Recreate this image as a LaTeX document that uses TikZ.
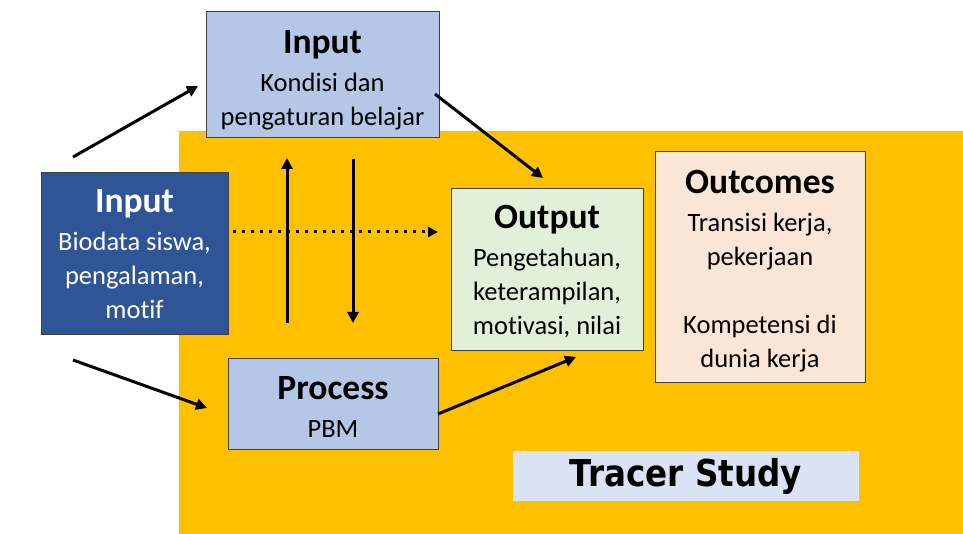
\documentclass[tikz,border=0pt]{standalone}
\usepackage{fontspec}
\setmainfont{Carlito}[Ligatures={NoCommon}]
\newfontfamily\tracerfont[FakeStretch=0.88]{DejaVu Sans}
\usetikzlibrary{arrows.meta}
\definecolor{ygold}{HTML}{FFC000}
\definecolor{dblue}{HTML}{2F5597}
\definecolor{lblue}{HTML}{B4C7E7}
\definecolor{lgreen}{HTML}{E2F0D9}
\definecolor{lpeach}{HTML}{FBE5D6}
\definecolor{tblue}{HTML}{DAE3F3}
\definecolor{edge}{HTML}{404040}
\newcommand{\hd}[2]{{\fontsize{35.5}{35.5}\selectfont\bfseries\rule{0pt}{#1pt}#2}}
\tikzset{
  box/.style={draw=edge, line width=0.8pt, align=center, inner sep=0pt,
    font=\fontsize{26.5}{34}\selectfont},
  arr/.style={line width=3pt, -{Triangle[length=11pt,width=11pt]}},
  dotarr/.style={line width=3pt, dash pattern=on 3pt off 6pt,
    -{Triangle[length=10pt,width=10pt]}},
}
\begin{document}
\begin{tikzpicture}[x=1pt,y=-1pt]
\useasboundingbox (0,0) rectangle (963,534);
\fill[white] (0,0) rectangle (963,534);
\fill[ygold] (179,131) rectangle (963,534);

\node[box, fill=lblue, minimum width=233pt, minimum height=126pt] (inK) at (322.5,74)
  {\hd{35.5}{Input}\\[4pt]Kondisi dan\\pengaturan belajar};
\node[box, fill=dblue, text=white, minimum width=187pt, minimum height=162pt] (inB) at (134.5,253)
  {\hd{24.5}{Input}\\[4pt]Biodata siswa,\\pengalaman,\\motif};
\node[box, fill=lblue, minimum width=210pt, minimum height=91pt] (proc) at (333,403.5)
  {\hd{29.5}{Process}\\[4pt]PBM};
\node[box, fill=lgreen, minimum width=192pt, minimum height=162pt] (out) at (547,269)
  {\hd{27.5}{Output}\\[4pt]Pengetahuan,\\keterampilan,\\motivasi, nilai};
\node[box, fill=lpeach, minimum width=210pt, minimum height=231pt] (outc) at (760,266.5)
  {\hd{32.5}{Outcomes}\\[4pt]Transisi kerja,\\pekerjaan\\[34pt]Kompetensi di\\dunia kerja};
\node[fill=tblue, inner sep=0pt, minimum width=346pt, minimum height=50pt,
  font=\tracerfont\bfseries\fontsize{37}{37}\selectfont] (tracer) at (686,476) {Tracer Study};

\coordinate (a1s) at (73,157);  \coordinate (a1e) at (198,86);
\coordinate (a2s) at (435,94);  \coordinate (a2e) at (543,178);
\coordinate (a3s) at (233,232); \coordinate (a3e) at (438,232);
\coordinate (a4s) at (287,323); \coordinate (a4e) at (287,158);
\coordinate (a5s) at (353,159); \coordinate (a5e) at (353,323);
\coordinate (a6s) at (73,360);  \coordinate (a6e) at (207,408);
\coordinate (a7s) at (438,414); \coordinate (a7e) at (576,357);

\draw[arr] (a1s) -- (a1e);
\draw[arr] (a2s) -- (a2e);
\draw[dotarr] (a3s) -- (a3e);
\draw[arr] (a4s) -- (a4e);
\draw[arr] (a5s) -- (a5e);
\draw[arr] (a6s) -- (a6e);
\draw[arr] (a7s) -- (a7e);
\end{tikzpicture}
\end{document}
